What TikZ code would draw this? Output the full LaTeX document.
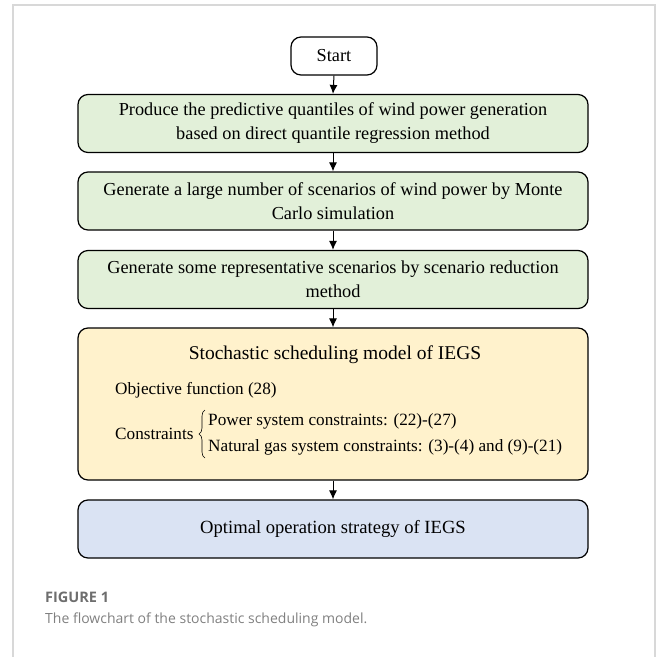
\documentclass[tikz,border=0pt]{standalone}
\usepackage{fontspec}
\setmainfont{Liberation Serif}
\newfontfamily\capfont{Open Sans}
\usetikzlibrary{arrows.meta,decorations.pathreplacing}
\definecolor{stepgreen}{RGB}{226,240,217}
\definecolor{modelyellow}{RGB}{255,242,204}
\definecolor{resultblue}{RGB}{218,227,243}
\definecolor{framegray}{RGB}{216,216,216}
\definecolor{capgray}{RGB}{110,110,110}
\definecolor{textgray}{RGB}{128,128,128}

\begin{document}
\begin{tikzpicture}[x=1pt,y=-1pt,>={Latex[length=9pt,width=8pt]},
	box/.style={draw,line width=1.2pt,rounded corners=10pt,minimum width=510pt,minimum height=58pt,
		align=center,inner sep=0pt,font=\fontsize{18.3}{24}\selectfont},
	flow/.style={->,line width=1pt},
	item/.style={anchor=west,inner sep=0pt,font=\fontsize{17.2}{20}\selectfont}]
		\useasboundingbox (0,0) rectangle (656,657);
		\draw[framegray,line width=1.5pt] (13,657)--(13,5)--(655,5)--(655,657);
		% boxes of the flowchart
		\node[box,fill=white,minimum width=86pt,minimum height=38pt] (start) at (334,56) {Start};
		\node[box,fill=stepgreen] (quantiles) at (333,123.5) {Produce the predictive quantiles of wind power generation\\based on direct quantile regression method};
		\node[box,fill=stepgreen] (scenarios) at (333,201) {Generate a large number of scenarios of wind power by Monte\\Carlo simulation};
		\node[box,fill=stepgreen] (reduction) at (333,279.5) {Generate some representative scenarios by scenario reduction\\method};
		\node[box,fill=modelyellow,minimum height=152pt] (model) at (333,404) {};
		\node[box,fill=resultblue,font=\fontsize{18.6}{24}\selectfont] (strategy) at (333,529) {Optimal operation strategy of IEGS};
		% inside the model box
		\node[font=\fontsize{19.5}{22}\selectfont] (modeltitle) at (335,355) {Stochastic scheduling model of IEGS};
		\node[item] (objective) at (115,390) {Objective function (28)};
		\node[item] (constraints) at (115,434) {Constraints};
		\node[item] (powercon) at (208,421) {Power system constraints: (22)-(27)};
		\node[item] (gascon) at (208,447) {Natural gas system constraints: (3)-(4) and (9)-(21)};
		\draw[decorate,decoration={brace,amplitude=6pt},line width=0.6pt] (205,458) -- (205,410);
		% arrows
		\draw[flow] (start.south)--(quantiles.north);
		\draw[flow] (quantiles.south)--(scenarios.north);
		\draw[flow] (scenarios.south)--(reduction.north);
		\draw[flow] (reduction.south)--(model.north);
		\draw[flow] (model.south)--(strategy.north);
		% caption
		\node[anchor=west,inner sep=0pt,text=capgray,font=\capfont\bfseries\fontsize{14.5}{16}\selectfont] (figlabel) at (45,597) {FIGURE 1};
		\node[anchor=west,inner sep=0pt,text=textgray,font=\capfont\fontsize{14}{16}\selectfont] (figcaption) at (45,620) {The flowchart of the stochastic scheduling model.};
\end{tikzpicture}
\end{document}
